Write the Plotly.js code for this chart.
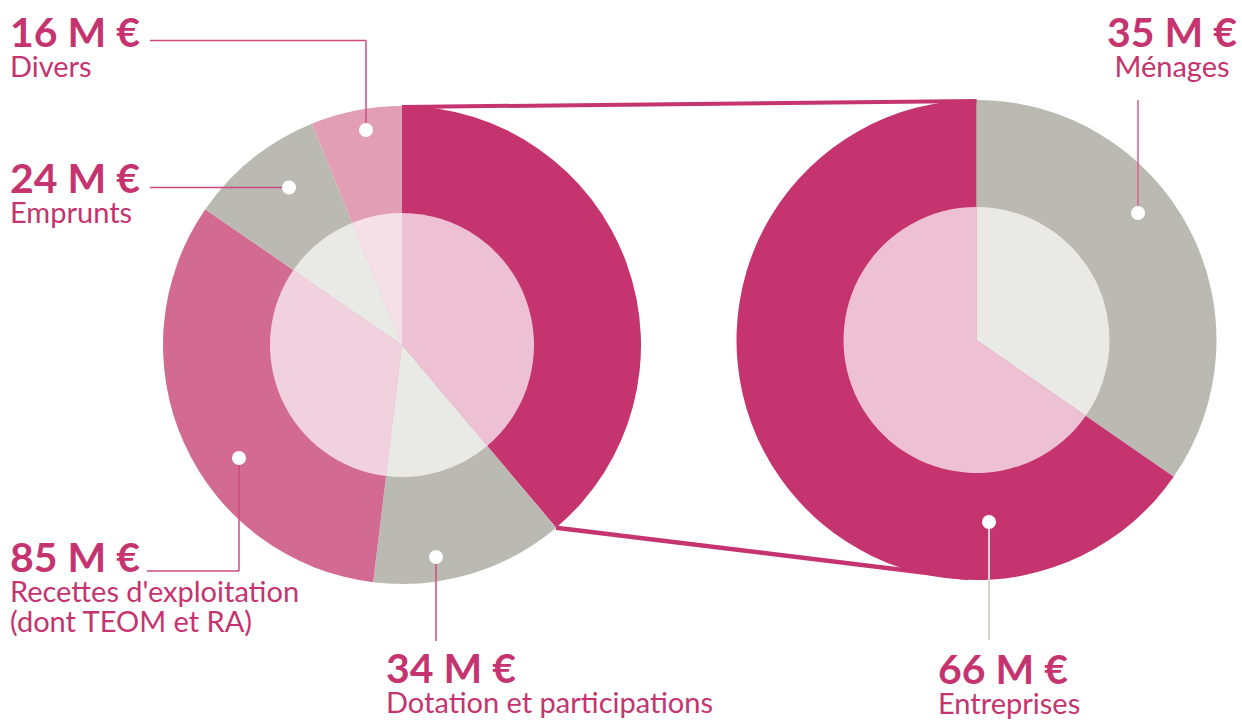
<!DOCTYPE html>
<html>
<head>
<meta charset="utf-8">
<script src="https://cdn.plot.ly/plotly-3.0.1.min.js"></script>
<style>
  html, body { margin: 0; padding: 0; background: #ffffff; }
  #chart { width: 1242px; height: 720px; }
</style>
</head>
<body>
<div id="chart"></div>
<script>
// ---- Data ----
const rightLabels = ['Ménages', 'Entreprises'];
const rightValues = [35, 66];
const leftLabels = ['Ménages + Entreprises', 'Dotation et participations', "Recettes d'exploitation<br>(dont TEOM et RA)", 'Emprunts', 'Divers'];
const leftValues = [rightValues[0] + rightValues[1], 34, 85, 24, 16];
const unit = ' M €';

// ---- Styles ----
const leftOuterColors = ['#C5346F', '#BBBAB2', '#D26A91', '#BBBAB2', '#E19EB4'];
const leftInnerColors = ['#EDC0D4', '#E9E9E5', '#F2D1DF', '#E9E9E5', '#F5E0E8'];
const rightOuterColors = ['#BBBAB2', '#C5346F'];
const rightInnerColors = ['#E9E9E5', '#EDC0D4'];
const MAG = '#C5346F';
const W = 1242, H = 720;

// geometry in px
const L = {cx: 402, cy: 345, r: 239, ri: 132};
const R = {cx: 976.5, cy: 340, r: 240, ri: 133};

const px = x => x / W;
const py = y => 1 - y / H;
function dom(cx, cy, r) {
  return {x: [px(cx - r), px(cx + r)], y: [py(cy + r), py(cy - r)]};
}
function pie(labels, values, colors, d) {
  return {
    type: 'pie', labels: labels, values: values, sort: false,
    direction: 'clockwise', rotation: 0, textinfo: 'none',
    hoverinfo: 'skip', showlegend: false,
    marker: {colors: colors, line: {width: 0}},
    domain: d
  };
}

const traces = [
  pie(leftLabels, leftValues, leftOuterColors, dom(L.cx, L.cy, L.r)),
  pie(leftLabels, leftValues, leftInnerColors, dom(L.cx, L.cy, L.ri)),
  pie(rightLabels, rightValues, rightOuterColors, dom(R.cx, R.cy, R.r)),
  pie(rightLabels, rightValues, rightInnerColors, dom(R.cx, R.cy, R.ri))
];

// connector lines between left first slice and right pie
const total = leftValues.reduce((a, b) => a + b, 0);
const aEnd = leftValues[0] / total * 2 * Math.PI;
const shapes = [];
function seg(x0, y0, x1, y1, color, w) {
  shapes.push({type: 'line', xref: 'paper', yref: 'paper',
    x0: px(x0), y0: py(y0), x1: px(x1), y1: py(y1),
    line: {color: color, width: w}});
}
function dot(x, y) {
  const rr = 7;
  shapes.push({type: 'circle', xref: 'paper', yref: 'paper',
    x0: px(x - rr), x1: px(x + rr), y0: py(y + rr), y1: py(y - rr),
    fillcolor: '#ffffff', line: {width: 0}});
}
seg(L.cx, L.cy - L.r + 1, R.cx, R.cy - R.r + 1, MAG, 4);
seg(L.cx + L.r * Math.sin(aEnd), L.cy - L.r * Math.cos(aEnd), R.cx - 8, R.cy + R.r - 2, MAG, 4.5);

// leader lines
const LC = '#CC4A80';
seg(366, 130, 366, 40.5, LC, 1.5); seg(366, 40.5, 150, 40.5, LC, 1.5); dot(366, 130);
seg(289, 187.5, 150, 187.5, LC, 1.5); dot(289, 187.5);
seg(239, 458, 239, 571, LC, 1.5); seg(239, 571, 147, 571, LC, 1.5); dot(239, 458);
seg(436, 557, 436, 641, LC, 1.5); dot(436, 557);
seg(1138, 100, 1138, 213, '#D4608E', 1.5); dot(1138, 213);
seg(989, 522, 989, 640, '#D5D3CE', 2); dot(989, 522);

// annotations: one block per callout (value line + label lines)
const annotations = [];
const BASEFONT = {family: 'Lato, sans-serif', size: 23, color: MAG};
function block(value, label, x, y, anchor) {
  const lines = label.split('<br>').map(s => '<span style="font-size:29px">' + s + '</span>');
  const text = '<span style="font-size:41px"><b>' + value + unit + '</b></span><br>' + lines.join('<br>');
  annotations.push({text: text, xref: 'paper', yref: 'paper', x: px(x), y: py(y),
    xanchor: anchor, yanchor: 'middle', align: anchor, showarrow: false,
    font: BASEFONT, borderpad: 0});
}
block(leftValues[4], leftLabels[4], 9, 45, 'left');
block(leftValues[3], leftLabels[3], 9, 191, 'left');
block(leftValues[2], leftLabels[2], 9, 585, 'left');
block(leftValues[1], leftLabels[1], 385, 681, 'left');
block(rightValues[0], rightLabels[0] + '\u00a0', 1238, 45, 'right');
block(rightValues[1], rightLabels[1], 937, 682, 'left');

const layout = {
  width: W, height: H,
  margin: {l: 0, r: 0, t: 0, b: 0},
  paper_bgcolor: '#ffffff', plot_bgcolor: '#ffffff',
  showlegend: false,
  shapes: shapes,
  annotations: annotations
};
Plotly.newPlot('chart', traces, layout, {staticPlot: true, displayModeBar: false});
</script>
</body>
</html>
